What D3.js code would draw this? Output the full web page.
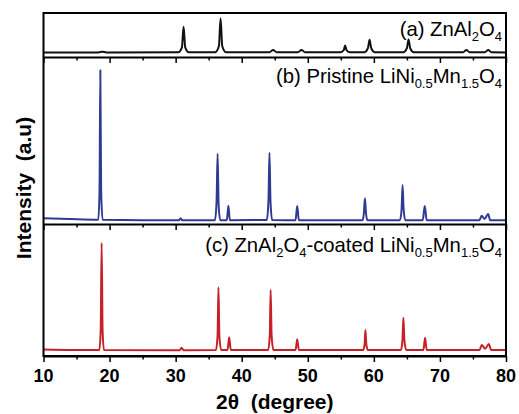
<!DOCTYPE html>
<html>
<head>
<meta charset="utf-8">
<script src="https://cdn.jsdelivr.net/npm/d3@7"></script>
<style>
  body { margin: 0; background: #fff; }
  svg text { font-family: Arial, "Liberation Sans", sans-serif; }
  .frame rect { stroke: #000; stroke-width: 2; fill: none; }
  .axis path { stroke: #000; stroke-width: 2; }
  .axis line { stroke: #000; stroke-width: 1.5; }
  .tick-lbl { font-size: 18px; font-weight: bold; }
  .title { font-size: 21px; font-weight: bold; }
  .panel-label { font-size: 20.3px; }
</style>
</head>
<body>
<svg id="chart" width="519" height="414"></svg>
<script>
/* Data: [2theta, intensity (a.u.)] */

var patternA = [ // ZnAl2O4
	[10,10.5],[18.3,10.5],[18.9,12],[19.5,10.5],
	[30.4,10.8],[30.95,22],[31.2,69],[31.45,22],[32.0,10.8],
	[36.0,11],[36.55,25],[36.8,88],[37.05,25],[37.6,11],
	[44.2,10.8],[44.75,16],[45.3,10.8],
	[48.5,10.8],[49.05,16],[49.6,10.8],
	[55.0,11],[55.45,16],[55.65,26],[55.85,16],[56.3,11],
	[58.6,11],[59.1,20],[59.35,39],[59.6,20],[60.1,11],
	[64.5,11],[65.0,20],[65.25,40],[65.5,20],[66.0,11],
	[73.5,10.8],[74.0,16],[74.5,10.8],
	[76.8,10.8],[77.3,16],[77.8,10.8],
	[80,10.5]
];

var patternB = [ // pristine LiNi0.5Mn1.5O4
	[10,3.5],[14,3],[18.3,2.6],[18.48,20],[18.6,92],[18.72,20],[18.95,2.5],
	[25,2.3],[30.5,2.2],[30.75,3.5],[31.0,2.2],
	[35.95,2.3],[36.2,14],[36.35,42],[36.5,12],[36.75,2.3],
	[37.75,2.3],[37.98,11],[38.2,2.3],
	[43.8,2.4],[44.05,14],[44.2,42.7],[44.35,14],[44.6,2.4],
	[48.15,2.3],[48.4,10.8],[48.65,2.3],
	[58.3,2.3],[58.5,7],[58.65,15.4],[58.8,7],[59.0,2.3],
	[63.95,2.3],[64.2,9],[64.35,23.4],[64.5,9],[64.75,2.3],
	[67.4,2.3],[67.7,10.8],[68.0,2.3],
	[76.0,2.3],[76.3,5],[76.75,3],[77.3,6],[77.6,2.3],
	[80,2.3]
];

var patternC = [ // ZnAl2O4-coated LiNi0.5Mn1.5O4
	[10,5],[18.45,4.5],[18.66,20],[18.8,85.6],[18.94,20],[19.15,4.5],
	[30.6,4.4],[30.9,6.3],[31.2,4.4],
	[36.1,4.5],[36.35,16],[36.48,52],[36.62,15],[36.9,4.5],
	[37.85,4.5],[38.1,14.2],[38.35,4.5],
	[44.0,4.5],[44.25,16],[44.38,50],[44.52,16],[44.8,4.5],
	[48.15,4.5],[48.4,12.6],[48.65,4.5],
	[58.4,4.5],[58.6,9],[58.72,19.7],[58.86,9],[59.1,4.5],
	[64.1,4.5],[64.33,12],[64.47,29],[64.62,12],[64.9,4.5],
	[67.5,4.5],[67.75,13.9],[68.0,4.5],
	[76.0,4.5],[76.33,8.3],[76.85,5.5],[77.4,9.1],[77.75,4.5],
	[80,4.5]
];

var majorTicks = [10, 20, 30, 40, 50, 60, 70, 80];
var minorTicks = [15, 25, 35, 45, 55, 65, 75];

var xTitle = "2\u03b8\u00a0 (degree)";
var yTitle = "Intensity\u00a0 (a.u)";

/* Layout */

var plotLeft = 43.5, plotRight = 506,
	plotTop = 13, plotBottom = 356,
	sepAB = 57, sepBC = 224;

var svg = d3.select("#chart");

var x = d3.scaleLinear()
	.domain([10, 80])
	.range([plotLeft, plotRight]);

var panels = [
	{ data: patternA, color: "#111111", y0: sepAB, y1: plotTop,
	  label: [["(a) ZnAl"], ["2", "sub"], ["O"], ["4", "sub"]], labelY: 36 },
	{ data: patternB, color: "#2e3a93", y0: sepBC, y1: sepAB,
	  label: [["(b) Pristine LiNi"], ["0.5", "sub"], ["Mn"], ["1.5", "sub"], ["O"], ["4", "sub"]], labelY: 83 },
	{ data: patternC, color: "#c62128", y0: plotBottom, y1: sepBC,
	  label: [["(c) ZnAl"], ["2", "sub"], ["O"], ["4", "sub"], ["-coated LiNi"], ["0.5", "sub"], ["Mn"], ["1.5", "sub"], ["O"], ["4", "sub"]], labelY: 252 }
];

/* Curves */

panels.forEach(function(p) {
	var y = d3.scaleLinear()
		.domain([0, 100])
		.range([p.y0, p.y1]);

	var line = d3.line()
		.x(function(d) { return x(d[0]); })
		.y(function(d) { return y(d[1]); })
		.curve(d3.curveMonotoneX);

	svg.append("path")
		.datum(p.data)
		.attr("fill", "none")
		.attr("stroke", p.color)
		.attr("stroke-width", 2)
		.attr("stroke-linejoin", "round")
		.attr("d", line);

	var txt = svg.append("text")
		.attr("class", "panel-label")
		.attr("x", plotRight - 4)
		.attr("y", p.labelY)
		.attr("text-anchor", "end");

	var shifted = false;
	p.label.forEach(function(part) {
		var isSub = part[1] === "sub";
		var t = txt.append("tspan").text(part[0]);
		if (isSub && !shifted) { t.attr("dy", 5).style("font-size", "13px"); shifted = true; }
		else if (isSub) { t.style("font-size", "13px"); }
		else if (shifted) { t.attr("dy", -5); shifted = false; }
	});
});

/* Axes: ticks hang below each panel boundary */

[sepAB, sepBC, plotBottom].forEach(function(yPos) {
	var g = svg.append("g")
		.attr("class", "axis")
		.attr("transform", "translate(0," + yPos + ")");
	g.call(d3.axisBottom(x).tickValues(majorTicks).tickSize(6).tickSizeOuter(0).tickFormat(""));
	g.append("g").call(d3.axisBottom(x).tickValues(minorTicks).tickSize(3.5).tickSizeOuter(0).tickFormat(""))
		.select(".domain").remove();
	g.selectAll("text").remove();
});

svg.append("g")
	.selectAll("text")
	.data(majorTicks)
	.enter().append("text")
	.attr("class", "tick-lbl")
	.attr("x", function(d) { return x(d); })
	.attr("y", 382)
	.attr("text-anchor", "middle")
	.text(function(d) { return d; });

/* Frame */

svg.append("g").attr("class", "frame")
	.append("rect")
	.attr("x", plotLeft)
	.attr("y", plotTop)
	.attr("width", plotRight - plotLeft)
	.attr("height", plotBottom - plotTop);

/* Titles */

svg.append("text")
	.attr("class", "title")
	.attr("x", (plotLeft + plotRight) / 2)
	.attr("y", 409)
	.attr("text-anchor", "middle")
	.text(xTitle);

svg.append("text")
	.attr("class", "title")
	.attr("transform", "translate(31," + 188 + ") rotate(-90)")
	.attr("text-anchor", "middle")
	.text(yTitle);
</script>
</body>
</html>
